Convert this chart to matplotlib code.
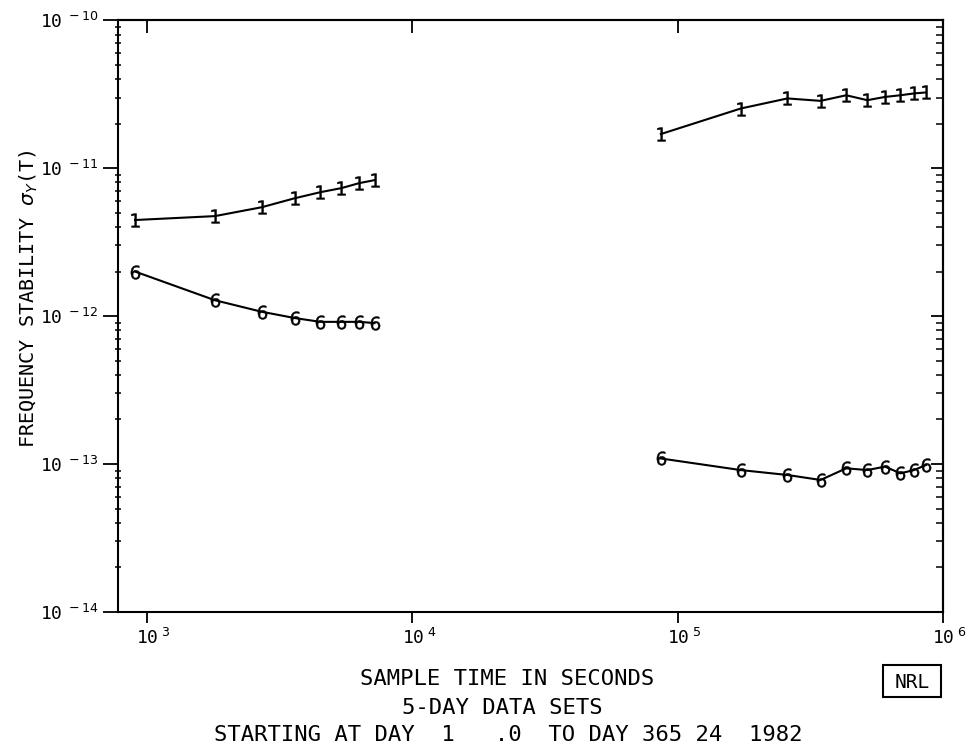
import numpy as np
import matplotlib.pyplot as plt
from matplotlib.ticker import FixedLocator, FixedFormatter, LogLocator, NullFormatter

# averaging times (s)
tau_short = [900, 1800, 2700, 3600, 4500, 5400, 6300, 7200]
tau_long = [86400, 172800, 259200, 345600, 432000, 518400, 604800, 691200, 777600, 864000]

# curve "1"
sig1_short = [4.46e-12, 4.74e-12, 5.44e-12, 6.26e-12, 6.88e-12, 7.33e-12, 7.92e-12, 8.3e-12]
sig1_long = [1.70e-11, 2.53e-11, 2.96e-11, 2.85e-11, 3.11e-11, 2.88e-11, 3.03e-11, 3.11e-11, 3.20e-11, 3.25e-11]

# curve "6"
sig6_short = [2.0e-12, 1.28e-12, 1.07e-12, 0.97e-12, 0.914e-12, 0.914e-12, 0.914e-12, 0.897e-12]
sig6_long = [1.09e-13, 0.91e-13, 0.843e-13, 0.78e-13, 0.935e-13, 0.91e-13, 0.96e-13, 0.865e-13, 0.91e-13, 0.985e-13]

xticks = [1e3, 1e4, 1e5, 1e6]
xticklabels = ["10$^{\\ 3}$", "10$^{\\ 4}$", "10$^{\\ 5}$", "10$^{\\ 6}$"]
yticks = [1e-14, 1e-13, 1e-12, 1e-11, 1e-10]
yticklabels = ["10$^{\\ -14}$", "10$^{\\ -13}$", "10$^{\\ -12}$", "10$^{\\ -11}$", "10$^{\\ -10}$"]

plt.rcParams['font.family'] = ['DejaVu Sans Mono', 'DejaVu Sans']
plt.rcParams['mathtext.fontset'] = 'dejavusans'

fig = plt.figure(figsize=(9.7, 7.49), dpi=100)
ax = fig.add_axes([0.1216, 0.183, 0.8505, 0.79])

for xs, ys, mk in [(tau_short, sig1_short, '$1$'), (tau_long, sig1_long, '$1$'),
                   (tau_short, sig6_short, '$6$'), (tau_long, sig6_long, '$6$')]:
    ax.plot(xs, ys, color='black', lw=1.5, marker=mk, markersize=10,
            markeredgewidth=0.3, markerfacecolor='black', markeredgecolor='black')

ax.set_xscale('log')
ax.set_yscale('log')
ax.set_xlim(776, 1e6)
ax.set_ylim(1e-14, 1e-10)

ax.xaxis.set_major_locator(FixedLocator(xticks))
ax.xaxis.set_major_formatter(NullFormatter())
ax.xaxis.set_minor_locator(FixedLocator([]))
ax.yaxis.set_major_locator(FixedLocator(yticks))
ax.yaxis.set_major_formatter(FixedFormatter(yticklabels))
ax.yaxis.set_minor_locator(LogLocator(base=10, subs=np.arange(2, 10), numticks=20))
ax.yaxis.set_minor_formatter(NullFormatter())

ax.tick_params(axis='x', which='major', direction='out', length=8, width=1.3)
ax.tick_params(axis='y', which='major', direction='out', length=11, width=1.3,
               labelsize=13, pad=3)
ax.tick_params(axis='y', which='minor', direction='inout', length=5, width=1.1)

# x tick labels: "10" centred under the tick, exponent to its right
for xv, lab in zip(xticks, xticklabels):
    ax.annotate(lab, xy=(xv, 0), xycoords=('data', 'axes fraction'),
                xytext=(-7.8, -11.5), textcoords='offset points',
                ha='left', va='top', fontsize=13, annotation_clip=False)

# right-hand ticks point inward
sec_y = ax.secondary_yaxis('right')
sec_y.yaxis.set_major_locator(FixedLocator(yticks))
sec_y.yaxis.set_minor_locator(LogLocator(base=10, subs=np.arange(2, 10), numticks=20))
sec_y.yaxis.set_major_formatter(NullFormatter())
sec_y.yaxis.set_minor_formatter(NullFormatter())
sec_y.tick_params(which='major', direction='in', length=9, width=1.3)
sec_y.tick_params(which='minor', direction='in', length=5, width=1.1)

# top ticks point inward
sec_x = ax.secondary_xaxis('top')
sec_x.xaxis.set_major_locator(FixedLocator(xticks))
sec_x.xaxis.set_minor_locator(FixedLocator([]))
sec_x.xaxis.set_major_formatter(NullFormatter())
sec_x.tick_params(which='major', direction='in', length=9, width=1.3)

for s in ax.spines.values():
    s.set_linewidth(1.5)
sec_y.spines['right'].set_linewidth(1.5)
sec_x.spines['top'].set_linewidth(1.5)

ax.set_ylabel("FREQUENCY STABILITY $\\sigma_Y$(T)", fontsize=14.5)
ax.yaxis.set_label_coords(-0.094, 0.53)

fig.text(0.523, 0.094, "SAMPLE TIME IN SECONDS", ha='center', va='center', fontsize=16)
fig.text(0.518, 0.055, "5-DAY DATA SETS", ha='center', va='center', fontsize=16)
fig.text(0.524, 0.019, "STARTING AT DAY  1   .0  TO DAY 365 24  1982",
         ha='center', va='center', fontsize=16)

# NRL stamp
fig.patches.append(plt.Rectangle((883 / 970, 1 - 697 / 749), 58 / 970, 32 / 749,
                                 transform=fig.transFigure, facecolor='white',
                                 edgecolor='black', lw=1.5))
fig.text(912 / 970, 1 - 683 / 749, "NRL", ha='center', va='center', fontsize=14)

fig.savefig('out.png', dpi=100)
